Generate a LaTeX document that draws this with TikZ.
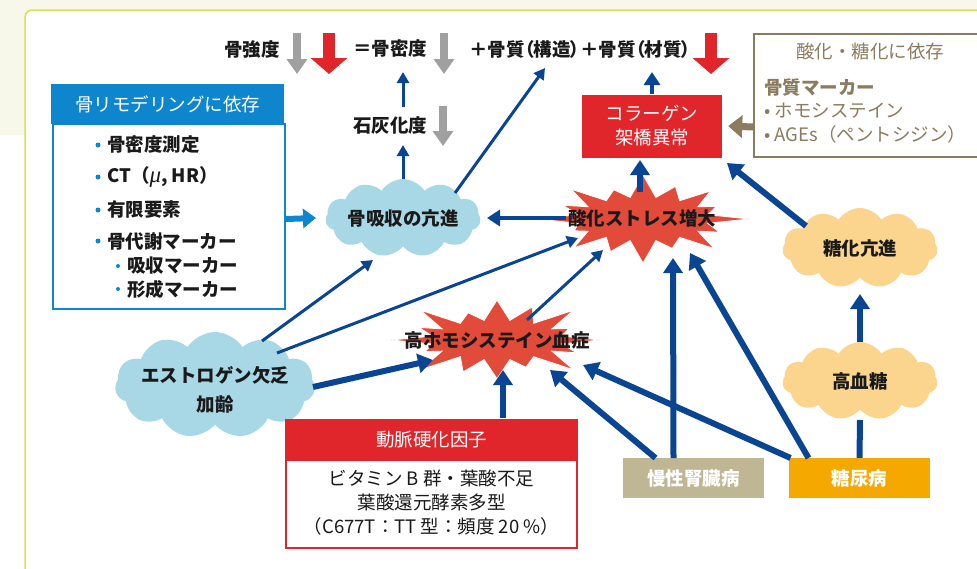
\documentclass[tikz,border=0pt]{standalone}
\usepackage{fontspec}
\setmainfont{Noto Sans CJK JP}
\newfontfamily\muf{Liberation Serif}
\usetikzlibrary{arrows.meta,shapes.symbols}
\definecolor{navy}{RGB}{10,69,148}
\definecolor{skyb}{RGB}{14,134,206}
\definecolor{cloudb}{RGB}{168,216,230}
\definecolor{cloudo}{RGB}{251,213,142}
\definecolor{burst}{RGB}{226,74,58}
\definecolor{redbox}{RGB}{224,38,42}
\definecolor{brownb}{RGB}{140,123,95}
\definecolor{khaki}{RGB}{191,183,148}
\definecolor{orangeb}{RGB}{245,168,0}
\definecolor{grayar}{RGB}{160,160,160}
\definecolor{cream}{RGB}{248,248,234}
\definecolor{limeb}{RGB}{214,224,90}
\definecolor{txtc}{RGB}{26,26,26}
\tikzset{
  base/.style={font=\fontsize{18.5}{22}\selectfont, inner sep=0pt, text=txtc},
  btxt/.style={base, font=\bfseries\fontsize{18.5}{22}\selectfont},
  wtxt/.style={base, text=white},
  thinar/.style={draw=navy, line width=3pt, -{Triangle[length=11pt,width=12pt]}},
  midar/.style={draw=navy, line width=4.5pt, -{Triangle[length=13pt,width=16pt]}},
  thickar/.style={draw=navy, line width=6pt, -{Triangle[length=15pt,width=19pt]}},
  grayarrow/.style={draw=grayar, line width=8pt, -{Triangle[length=15pt,width=20pt]}},
  redarrow/.style={draw=redbox, line width=12pt, -{Triangle[length=16pt,width=36pt]}},
  cloudshape/.style={cloud, cloud puffs=11, cloud puff arc=115, cloud ignores aspect, inner sep=0pt, draw=none},
  burstfill/.style={fill=burst, draw=white, line width=0.8pt, line join=miter},
  dotb/.style={circle, fill=skyb, inner sep=0pt, minimum size=5pt},
  dots/.style={circle, fill=skyb, inner sep=0pt, minimum size=4pt}
}
% #1 cx, #2 cy, #3 outer rx, #4 outer ry, #5 inner rx, #6 inner ry, #7 factor list (16 items)
\newcommand\burstshape[7]{%
  \fill[burstfill] ({#1+#5*cos(-11.25)},{#2+#6*sin(-11.25)})
  \foreach \ff [count=\kk from 0] in {#7} {
    -- ({#1+\ff*#3*cos(\kk*22.5)},{#2+\ff*#4*sin(\kk*22.5)})
    -- ({#1+#5*cos(\kk*22.5+11.25)},{#2+#6*sin(\kk*22.5+11.25)})
  } -- cycle;}
\begin{document}
\begin{tikzpicture}[x=1pt,y=-1pt]
\useasboundingbox (0,0) rectangle (977,568);
\fill[cream] (0,0) rectangle (977,135);
\draw[limeb, line width=1.5pt, fill=white, rounded corners=7pt] (25,10) rectangle (1030,640);

% top row
\node[btxt] (bs) at (252,49) {骨強度};
\draw[grayarrow] (297,33) -- (297,74);
\draw[redarrow] (329,33) -- (329,74);
\node[btxt] (bd) at (390,49) {＝骨密度};
\draw[grayarrow] (444,33) -- (444,74);
\node[btxt] (bq) at (580,49) {\addfontfeature{RawFeature=+palt}＋骨質（構造）＋骨質（材質）};
\draw[redarrow] (711,33) -- (711,74);
\node[btxt] (lit) at (390,126) {石灰化度};
\draw[grayarrow] (443,106) -- (443,146);

% left box
\node[wtxt, fill=skyb, minimum width=233pt, minimum height=40pt, anchor=north west] (rmh) at (51,84) {骨リモデリングに依存};
\node[draw=skyb, line width=2pt, minimum width=232pt, minimum height=185pt, anchor=north west, inner sep=0pt] (rmb) at (52,123) {};
\node[dotb] (d1) at (98,145) {};
\node[btxt, anchor=west] (i1) at (107,145) {骨密度測定};
\node[dotb] (d2) at (98,177) {};
\node[btxt, anchor=west] (i2) at (107,177) {CT（{\fontsize{23}{22}\muf\itshape\mdseries μ}, HR）};
\node[dotb] (d3) at (98,210) {};
\node[btxt, anchor=west] (i3) at (107,210) {有限要素};
\node[dotb] (d4) at (98,241) {};
\node[btxt, anchor=west] (i4) at (107,241) {骨代謝マーカー};
\node[dots] (d5) at (118,266) {};
\node[btxt, anchor=west] (i5) at (127,266) {吸収マーカー};
\node[dots] (d6) at (118,289) {};
\node[btxt, anchor=west] (i6) at (127,289) {形成マーカー};

% clouds
\node[cloudshape, fill=cloudb, minimum width=155pt, minimum height=78pt] (resorp) at (403,218) {};
\node[btxt] (resorpt) at (403,218) {骨吸収の亢進};
\node[cloudshape, fill=cloudb, minimum width=200pt, minimum height=106pt] (est) at (215,385) {};
\node[btxt] (estt1) at (215,375) {エストロゲン欠乏};
\node[btxt] (estt2) at (215,404) {加齢};
\node[cloudshape, fill=cloudo, minimum width=155pt, minimum height=80pt] (glyc) at (860,248) {};
\node[btxt] (glyct) at (860,248) {糖化亢進};
\node[cloudshape, fill=cloudo, minimum width=155pt, minimum height=78pt] (hyper) at (860,381) {};
\node[btxt] (hypert) at (860,381) {高血糖};

% starbursts
\burstshape{643}{219}{106}{44}{66}{22}{1.0,0.78,0.95,0.72,1.0,0.8,0.92,0.7,1.0,0.82,0.96,0.72,1.0,0.8,0.9,0.75}
\node[btxt] (oxi) at (642,218) {酸化ストレス増大};
\burstshape{497}{340}{108}{42}{66}{20}{0.95,0.8,1.0,0.7,0.92,0.82,1.0,0.72,0.98,0.78,1.0,0.7,0.95,0.85,1.0,0.72}
\node[btxt] (hcy) at (497,340) {高ホモシステイン血症};

% collagen box
\node[fill=redbox, minimum width=140pt, minimum height=63pt, inner sep=0pt] (col) at (652,126) {};
\node[wtxt] (colt1) at (652,113) {コラーゲン};
\node[wtxt] (colt2) at (652,137) {架橋異常};

% brown box
\node[draw=brownb, line width=2pt, fill=white, minimum width=240pt, minimum height=123pt, anchor=north west, inner sep=0pt] (mk) at (753,33) {};
\node[base, text=brownb] (mk0) at (870,51) {酸化・糖化に依存};
\node[base, text=brownb, font=\bfseries\fontsize{18.5}{22}\selectfont, anchor=west] (mk1) at (764,88) {骨質マーカー};
\node[base, text=brownb, anchor=west] (mk2) at (764,111) {• ホモシステイン};
\node[base, text=brownb, anchor=west] (mk3) at (764,134) {• AGEs（ペントシジン）};

% atherosclerosis box
\node[fill=redbox, minimum width=293pt, minimum height=40pt, inner sep=0pt] (ath) at (431.5,439) {};
\node[wtxt] (atht) at (431.5,440) {動脈硬化因子};
\node[draw=redbox, line width=2pt, fill=white, minimum width=291pt, minimum height=88pt, anchor=north, inner sep=0pt] (athb) at (431.5,459) {};
\node[base] (ath1) at (431.5,478) {ビタミン B 群・葉酸不足};
\node[base] (ath2) at (431.5,502) {葉酸還元酵素多型};
\node[base] (ath3) at (431.5,526) {（C677T：TT 型：頻度 20 \%）};

% disease boxes
\node[fill=khaki, minimum width=141pt, minimum height=40pt, inner sep=0pt] (ckd) at (693.5,478) {};
\node[wtxt, font=\bfseries\fontsize{18.5}{22}\selectfont] (ckdt) at (693.5,478) {慢性腎臓病};
\node[fill=orangeb, minimum width=141pt, minimum height=40pt, inner sep=0pt] (dm) at (859.5,478) {};
\node[wtxt, font=\bfseries\fontsize{18.5}{22}\selectfont] (dmt) at (859.5,478) {糖尿病};

% connectors
\draw[thinar] ([xshift=13pt,yshift=19pt]lit.center) -- ([xshift=13pt,yshift=-23pt]bd.center);
\draw[thinar] (resorp.north) -- ([xshift=13pt,yshift=-19pt]lit.center);
\draw[thinar] ([xshift=52pt,yshift=25pt]resorp.center) -- ([xshift=-35pt,yshift=-19pt]bq.center);
\draw[midar] ([xshift=-76pt,yshift=0pt]oxi.center) -- ([xshift=84pt]resorp.center);
\draw[thickar] ([xshift=-2pt,yshift=26pt]oxi.center) -- ([xshift=-12pt,yshift=-34pt]col.center);
\draw[midar] (col.north) -- ([xshift=72pt,yshift=-23pt]bq.center);
\draw[thickar] ([xshift=-54pt,yshift=22pt]glyc.center) -- ([xshift=75pt,yshift=-37pt]col.center);
\draw[thickar] ([yshift=39pt]hyper.center) -- ([yshift=-46pt]glyc.center);
\draw[navy, line width=6pt] (dm.north) -- ([yshift=-39pt]hyper.center);
\draw[thickar] ([xshift=-51pt,yshift=20pt]dm.center) -- ([xshift=48pt,yshift=-35pt]oxi.center);
\draw[thickar] ([xshift=-69pt,yshift=20pt]dm.center) -- ([xshift=86pt,yshift=-25pt]hcy.center);
\draw[thickar] ([xshift=-20pt,yshift=20pt]ckd.center) -- ([xshift=31pt,yshift=-40pt]oxi.center);
\draw[thickar] ([xshift=-38pt,yshift=20pt]ckd.center) -- ([xshift=53pt,yshift=-30pt]hcy.center);
\draw[thinar] ([xshift=30pt,yshift=20pt]hcy.center) -- ([xshift=-39pt,yshift=-32pt]oxi.center);
\draw[thickar] ([xshift=71.5pt,yshift=21pt]ath.center) -- ([xshift=6pt,yshift=-30pt]hcy.center);
\draw[thinar] ([xshift=47pt,yshift=44pt]est.center) -- ([xshift=-30pt,yshift=-42pt]resorp.center);
\draw[thinar] ([xshift=62pt,yshift=32pt]est.center) -- ([xshift=-64pt,yshift=-20pt]oxi.center);
\draw[thickar] ([xshift=98pt,yshift=-2pt]est.center) -- ([xshift=-64pt,yshift=-20pt]hcy.center);
\draw[draw=skyb, line width=6pt, -{Triangle[length=13pt,width=19pt]}] ([yshift=-2.5pt]rmb.east) -- ([xshift=-87pt]resorp.center);
\draw[draw=brownb, line width=7pt, -{Triangle[length=14pt,width=22pt]}] ([yshift=-31.5pt]mk.west) -- ([xshift=6pt]col.east);
\end{tikzpicture}
\end{document}
